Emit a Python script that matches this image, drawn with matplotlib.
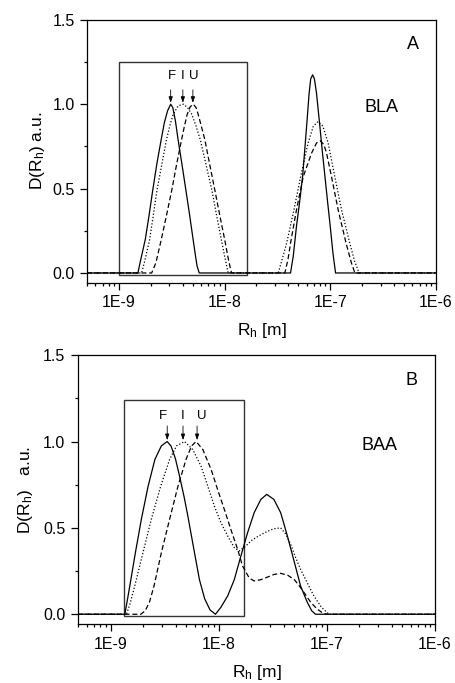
import numpy as np
import matplotlib
matplotlib.use('Agg')
import matplotlib.pyplot as plt
from matplotlib.patches import Rectangle
from matplotlib.ticker import FixedLocator, LogLocator, NullFormatter, MultipleLocator, FormatStrFormatter

plt.rcParams['font.family'] = ['Liberation Sans', 'DejaVu Sans']
plt.rcParams['mathtext.fontset'] = 'custom'
plt.rcParams['mathtext.rm'] = 'Liberation Sans'
plt.rcParams['mathtext.it'] = 'Liberation Sans'

# ── Size distributions, log10(Rh / m) vs D(Rh) ──────────────────
# panel A : BLA
bla_f_logr = [-9.3, -8.82, -8.80, -8.775, -8.75, -8.715, -8.68, -8.64, -8.60, -8.57, -8.54,
              -8.51, -8.49, -8.465, -8.44, -8.40, -8.366, -8.33, -8.297, -8.275, -8.26, -8.24,
              -7.376, -7.35, -7.32, -7.29, -7.262, -7.24, -7.224, -7.20, -7.185, -7.167,
              -7.15, -7.13, -7.098, -7.075, -7.05, -7.025, -7.0, -6.975, -6.95, -6.0]
bla_f_d = [0, 0, 0.06, 0.13, 0.2, 0.34, 0.49, 0.65, 0.79, 0.89, 0.96,
           1.0, 0.98, 0.9, 0.79, 0.63, 0.49, 0.34, 0.195, 0.1, 0.04, 0,
           0, 0.1, 0.275, 0.42, 0.57, 0.74, 0.867, 1.065, 1.15, 1.174,
           1.15, 1.065, 0.867, 0.72, 0.57, 0.42, 0.275, 0.12, 0, 0]

bla_i_logr = [-9.3, -8.785, -8.76, -8.71, -8.675, -8.64, -8.595, -8.55, -8.515, -8.486, -8.44,
              -8.39, -8.35, -8.31, -8.27, -8.23, -8.175, -8.12, -8.075, -8.03, -8.0, -7.98, -7.966,
              -7.493, -7.46, -7.413, -7.344, -7.28, -7.21, -7.16, -7.115, -7.07, -7.02,
              -6.957, -6.893, -6.815, -6.77, -6.727, -6.0]
bla_i_d = [0, 0, 0.06, 0.195, 0.34, 0.49, 0.64, 0.79, 0.88, 0.94, 0.99,
           1.0, 0.98, 0.94, 0.87, 0.79, 0.64, 0.49, 0.34, 0.195, 0.1, 0.04, 0,
           0, 0.07, 0.176, 0.373, 0.57, 0.77, 0.87, 0.897, 0.87, 0.77,
           0.57, 0.373, 0.176, 0.07, 0, 0]

bla_u_logr = [-9.3, -8.69, -8.65, -8.60, -8.55, -8.50, -8.455, -8.407, -8.38, -8.354, -8.325,
              -8.297, -8.27, -8.25, -8.22, -8.187, -8.14, -8.092, -8.045, -7.998, -7.97, -7.95, -7.934,
              -7.43, -7.40, -7.376, -7.32, -7.256, -7.177, -7.13, -7.092, -7.06, -7.035,
              -6.988, -6.925, -6.85, -6.80, -6.767, -6.0]
bla_u_d = [0, 0, 0.06, 0.195, 0.34, 0.49, 0.64, 0.79, 0.87, 0.94, 0.985,
           1.0, 0.98, 0.94, 0.87, 0.79, 0.64, 0.49, 0.34, 0.195, 0.1, 0.04, 0,
           0, 0.08, 0.176, 0.373, 0.57, 0.71, 0.77, 0.783, 0.76, 0.71,
           0.57, 0.373, 0.176, 0.06, 0, 0]

# panel B : BAA
baa_f_logr = [-9.3, -8.868, -8.845, -8.822, -8.77, -8.715, -8.653, -8.59, -8.53, -8.476, -8.44,
              -8.40, -8.362, -8.32, -8.285, -8.224, -8.178, -8.13, -8.08, -8.03, -7.98, -7.917,
              -7.856, -7.795, -7.733, -7.672, -7.61, -7.556, -7.49, -7.427, -7.365, -7.30,
              -7.243, -7.18, -7.14, -7.105, -6.0]
baa_f_d = [0, 0, 0.08, 0.164, 0.357, 0.55, 0.74, 0.896, 0.975, 1.0, 0.973,
           0.9, 0.80, 0.68, 0.568, 0.357, 0.2, 0.09, 0.025, 0, 0.04, 0.106,
           0.2, 0.337, 0.472, 0.588, 0.665, 0.694, 0.665, 0.588, 0.453, 0.30,
           0.164, 0.068, 0.02, 0, 0]

baa_i_logr = [-9.3, -8.853, -8.82, -8.776, -8.70, -8.623, -8.537, -8.454, -8.39, -8.316, -8.24,
              -8.163, -8.10, -8.04, -7.979, -7.917, -7.856, -7.81, -7.75, -7.69, -7.626, -7.55,
              -7.49, -7.427, -7.38, -7.335, -7.29, -7.243, -7.18, -7.12, -7.05, -6.98, -6.0]
baa_i_d = [0, 0, 0.06, 0.164, 0.357, 0.55, 0.74, 0.896, 0.975, 1.0, 0.954,
           0.857, 0.74, 0.626, 0.53, 0.453, 0.386, 0.366, 0.395, 0.43, 0.455, 0.48,
           0.495, 0.5, 0.465, 0.405, 0.33, 0.26, 0.18, 0.106, 0.04, 0, 0]

baa_u_logr = [-9.3, -8.72, -8.68, -8.64, -8.598, -8.53, -8.454, -8.377, -8.30, -8.25, -8.209,
              -8.147, -8.07, -8.009, -7.948, -7.887, -7.825, -7.78, -7.718, -7.673, -7.61,
              -7.55, -7.49, -7.427, -7.36, -7.30, -7.25, -7.21, -7.15, -7.09, -7.04, -7.0, -6.0]
baa_u_d = [0, 0, 0.02, 0.07, 0.164, 0.357, 0.55, 0.74, 0.9, 0.975, 1.0,
           0.954, 0.838, 0.72, 0.607, 0.49, 0.376, 0.28, 0.21, 0.193, 0.2,
           0.215, 0.23, 0.237, 0.225, 0.2, 0.16, 0.125, 0.07, 0.03, 0.008, 0, 0]

# arrows marking the main peaks (F, I, U)
bla_peak_logr = [-8.51, -8.395, -8.30]
baa_peak_logr = [-8.476, -8.33, -8.20]
peak_names = ['F', 'I', 'U']

# box around the monomer region: (log10 left, log10 right, top)
bla_box = (-9.0, -7.79, 1.25)
baa_box = (-8.88, -7.77, 1.24)

xticks = [1e-9, 1e-8, 1e-7, 1e-6]
xticklabels = ['1E-9', '1E-8', '1E-7', '1E-6']

fig = plt.figure(figsize=(4.56, 6.83), dpi=100)
axA = fig.add_axes([0.191, 0.586, 0.765, 0.385])
axB = fig.add_axes([0.171, 0.086, 0.783, 0.394])


def draw_panel(ax, f, i, u, peaks, box, tag, name, ylab, ypad, arrow_y, letter_y, letter_dx):
    for (lr, d), ls in zip([f, i, u], ['-', (0, (1, 1.6)), (0, (4, 2.2))]):
        ax.plot(10 ** np.array(lr), d, color='black', lw=0.9, ls=ls)
    x0, x1, top = box
    ax.add_patch(Rectangle((10 ** x0, -0.012), 10 ** x1 - 10 ** x0, top + 0.012,
                           fill=False, ec='#333333', lw=1.0))
    for p, nm, dx in zip(peaks, peak_names, letter_dx):
        ax.annotate('', xy=(10 ** p, 1.008), xytext=(10 ** p, arrow_y),
                    arrowprops=dict(arrowstyle='-|>,head_length=0.35,head_width=0.12',
                                    color='black', lw=0.6, shrinkA=0, shrinkB=0))
        ax.text(10 ** (p + dx), letter_y, nm, ha='center', va='center', fontsize=9.5)
    ax.text(0.935, 0.905, tag, transform=ax.transAxes, ha='center', va='center', fontsize=13)
    ax.text(0.845, 0.665, name, transform=ax.transAxes, ha='center', va='center', fontsize=13)

    ax.set_xscale('log')
    ax.set_xlim(5e-10, 1e-6)
    ax.set_ylim(-0.058, 1.5)
    ax.xaxis.set_major_locator(FixedLocator(xticks))
    ax.set_xticklabels(xticklabels)
    ax.xaxis.set_minor_locator(LogLocator(base=10, subs=np.arange(2, 10), numticks=20))
    ax.xaxis.set_minor_formatter(NullFormatter())
    ax.yaxis.set_major_locator(MultipleLocator(0.5))
    ax.yaxis.set_minor_locator(MultipleLocator(0.25))
    ax.yaxis.set_major_formatter(FormatStrFormatter('%.1f'))
    ax.tick_params(which='both', direction='out', top=False, right=False,
                   labelsize=11.5, width=0.9)
    ax.tick_params(which='major', length=5, pad=4)
    ax.tick_params(which='minor', length=2.5)
    for s in ax.spines.values():
        s.set_linewidth(0.9)
    ax.set_xlabel(r'R$_\mathregular{h}$ [m]', fontsize=12.5, labelpad=8)
    ax.set_ylabel(ylab, fontsize=12.5, labelpad=ypad)


draw_panel(axA, (bla_f_logr, bla_f_d), (bla_i_logr, bla_i_d), (bla_u_logr, bla_u_d),
           bla_peak_logr, bla_box, 'A', 'BLA', r'D(R$_\mathregular{h}$) a.u.', 4,
           1.085, 1.165, [0.01, 0.0, 0.01])
draw_panel(axB, (baa_f_logr, baa_f_d), (baa_i_logr, baa_i_d), (baa_u_logr, baa_u_d),
           baa_peak_logr, baa_box, 'B', 'BAA', r'D(R$_\mathregular{h}$)   a.u.', 6,
           1.09, 1.146, [-0.035, 0.0, 0.04])

fig.savefig('out.png', dpi=100)
